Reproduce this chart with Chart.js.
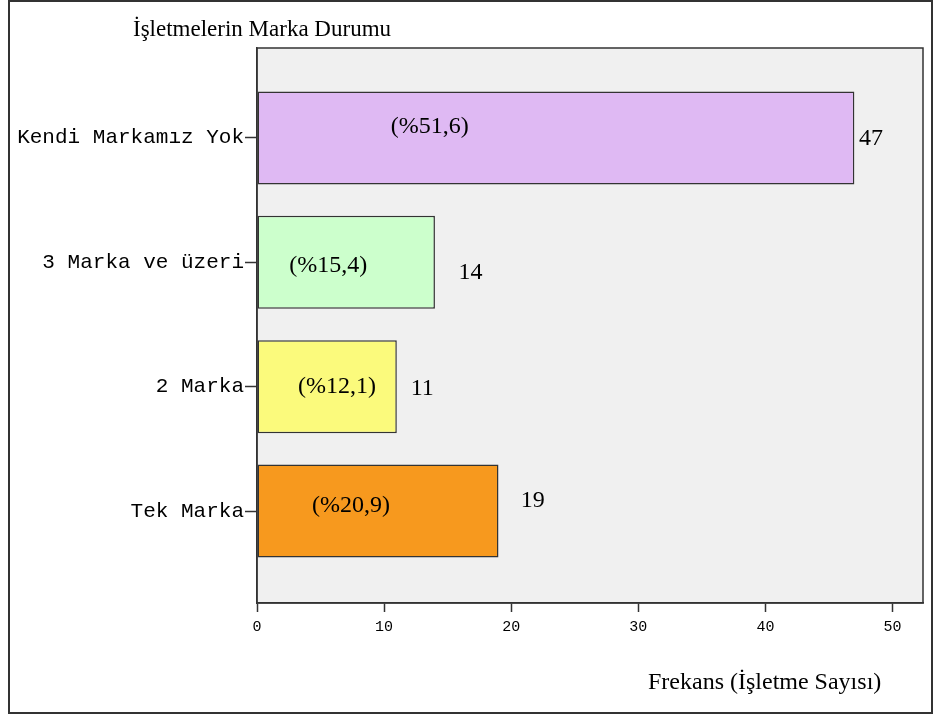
<!DOCTYPE html>
<html>
<head>
<meta charset="utf-8">
<script src="https://cdn.jsdelivr.net/npm/chart.js@4/dist/chart.umd.min.js"></script>
<style>
  body { margin: 0; background: #fff; }
  canvas { display: block; }
</style>
</head>
<body>
<canvas id="grafikMarka" width="937" height="717"></canvas>
<script>
const kategoriler = ["Kendi Markamız Yok", "3 Marka ve üzeri", "2 Marka", "Tek Marka"];
const frekanslar = [47, 14, 11, 19];
const yuzdeler = ["(%51,6)", "(%15,4)", "(%12,1)", "(%20,9)"];
const xTikleri = [0, 10, 20, 30, 40, 50];
const renkler = ["#dfb9f3", "#ccffcc", "#fbfa7c", "#f7991e"];

// yazı yerleşimi (eksen birimi / piksel kaydırma), SPSS çıktısına göre
const yuzdeKonumX = [13.6, 5.6, 6.3, 7.4];
const yuzdeKaymaY = [-11, 3, 0, -5];
const degerBoslukX = [1.3, 2.8, 2.0, 2.7];
const degerKaymaY = [1, 10, 2, -10];

const cerceveEklentisi = {
    id: "cerceve",
    beforeDraw(chart) {
        const { ctx, chartArea: a } = chart;
        ctx.save();
        ctx.fillStyle = "#f0f0f0";
        ctx.fillRect(a.left, a.top, a.right - a.left, a.bottom - a.top);
        ctx.restore();
    },
    afterDraw(chart) {
        const { ctx, chartArea: a } = chart;
        ctx.save();
        ctx.strokeStyle = "#333";
        ctx.lineWidth = 1.5;
        ctx.strokeRect(a.left, a.top, a.right - a.left, a.bottom - a.top);
        ctx.lineWidth = 2;
        ctx.strokeRect(9, 1, chart.width - 14, chart.height - 5);

        ctx.fillStyle = "#000";
        ctx.font = "23px 'Liberation Serif', serif";
        ctx.textAlign = "left";
        ctx.textBaseline = "middle";
        ctx.fillText("İşletmelerin Marka Durumu", 133, 30);
        ctx.font = "24px 'Liberation Serif', serif";
        ctx.fillText("Frekans (İşletme Sayısı)", 648, 683);

        const xs = chart.scales.x;
        const meta = chart.getDatasetMeta(0);
        ctx.font = "24px 'Liberation Serif', serif";
        ctx.textAlign = "center";
        meta.data.forEach((bar, i) => {
            ctx.fillText(yuzdeler[i], xs.getPixelForValue(yuzdeKonumX[i]), bar.y + yuzdeKaymaY[i]);
            ctx.fillText(String(frekanslar[i]), xs.getPixelForValue(frekanslar[i] + degerBoslukX[i]), bar.y + degerKaymaY[i]);
        });
        ctx.restore();
    }
};

new Chart(document.getElementById("grafikMarka").getContext("2d"), {
    type: "bar",
    data: {
        datasets: [{
            data: frekanslar.map((v, i) => ({ x: v, y: i })),
            backgroundColor: renkler,
            borderColor: "#333",
            borderWidth: 1.5,
            borderSkipped: false,
            categoryPercentage: 1,
            barPercentage: 0.747
        }]
    },
    options: {
        indexAxis: "y",
        responsive: false,
        animation: false,
        layout: { padding: { top: 48, right: 14 } },
        plugins: {
            legend: { display: false },
            tooltip: { enabled: false }
        },
        scales: {
            x: {
                type: "linear",
                min: 0,
                max: 52.4,
                afterBuildTicks: s => { s.ticks = xTikleri.map(v => ({ value: v })); },
                afterFit: s => { s.height = 114; },
                grid: { drawOnChartArea: false, tickLength: 9, color: "#333", tickWidth: 1.5 },
                border: { color: "#333", width: 1.5 },
                ticks: {
                    color: "#000",
                    padding: 6,
                    font: { family: "'Liberation Mono', monospace", size: 15 }
                }
            },
            y: {
                type: "linear",
                reverse: true,
                offset: false,
                min: -0.723,
                max: 3.739,
                afterBuildTicks: s => { s.ticks = kategoriler.map((k, i) => ({ value: i })); },
                afterFit: s => { s.width = 257; },
                grid: { offset: false, drawOnChartArea: false, tickLength: 12, color: "#333", tickWidth: 1.5 },
                border: { color: "#333", width: 1.5 },
                ticks: {
                    color: "#000",
                    padding: 1,
                    callback: v => kategoriler[v],
                    font: { family: "'Liberation Mono', monospace", size: 21 }
                }
            }
        }
    },
    plugins: [cerceveEklentisi]
});
</script>
</body>
</html>
